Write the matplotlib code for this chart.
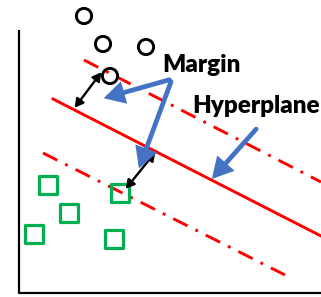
import matplotlib.pyplot as plt
from matplotlib.patches import FancyArrowPatch

# class points (pixel-like diagram coordinates)
circle_x = [84, 103, 146, 110]
circle_y = [16, 44, 47, 76]
square_x = [48, 69, 34, 120, 114]
square_y = [185, 213, 234, 193, 239]

# hyperplane and margin lines (end points)
hyper_x = [53, 321]
hyper_y = [99, 236]
upper_x = [84, 321]
upper_y = [60, 182]
lower_x = [43, 285]
lower_y = [153, 275]

# margin double arrows
margin_arrows = [((73, 110), (103, 70)), ((124, 191), (157, 150))]
# blue pointer arrows: tail, head
pointers = [((172, 79), (101, 99)), ((172, 79), (138, 171)), ((258, 127), (210, 181))]

labels = ["Margin", "Hyperplane"]
label_pos = [(162, 65), (192, 106)]

fig = plt.figure(figsize=(3.21, 2.97), dpi=100)
ax = fig.add_axes([0, 0, 1, 1])
ax.set_xlim(0, 321)
ax.set_ylim(297, 0)
ax.axis('off')

# axes lines
ax.plot([19, 19, 321], [30, 293, 293], color='black', lw=1.6, solid_capstyle='butt')

red = '#FF0000'
ax.plot(hyper_x, hyper_y, color=red, lw=2.1)
ax.plot(upper_x, upper_y, color=red, lw=2.1, dashes=(5.5, 3, 1, 3))
ax.plot(lower_x, lower_y, color=red, lw=2.1, dashes=(5.5, 3, 1, 3))

ax.scatter(circle_x, circle_y, s=120, facecolors='none', edgecolors='black', linewidths=2.1, zorder=3)
ax.scatter(square_x, square_y, s=160, marker='s', facecolors='none', edgecolors='#00B050', linewidths=2.3, zorder=3)

for a, b in margin_arrows:
    ax.add_patch(FancyArrowPatch(a, b, arrowstyle='<|-|>,head_length=5,head_width=2.8',
                                 color='black', lw=1.7, mutation_scale=1, zorder=4))

for tail, head in pointers:
    ax.add_patch(FancyArrowPatch(tail, head, arrowstyle='-|>,head_length=10,head_width=5.5',
                                 color='#4472C4', lw=3.4, mutation_scale=1,
                                 joinstyle='miter', capstyle='round', zorder=5))

for txt, (x, y) in zip(labels, label_pos):
    ax.text(x, y, txt, fontsize=17.5, fontweight='heavy', family='Lato',
            ha='left', va='center', color='black', zorder=6)

fig.savefig('out.png', dpi=100)
